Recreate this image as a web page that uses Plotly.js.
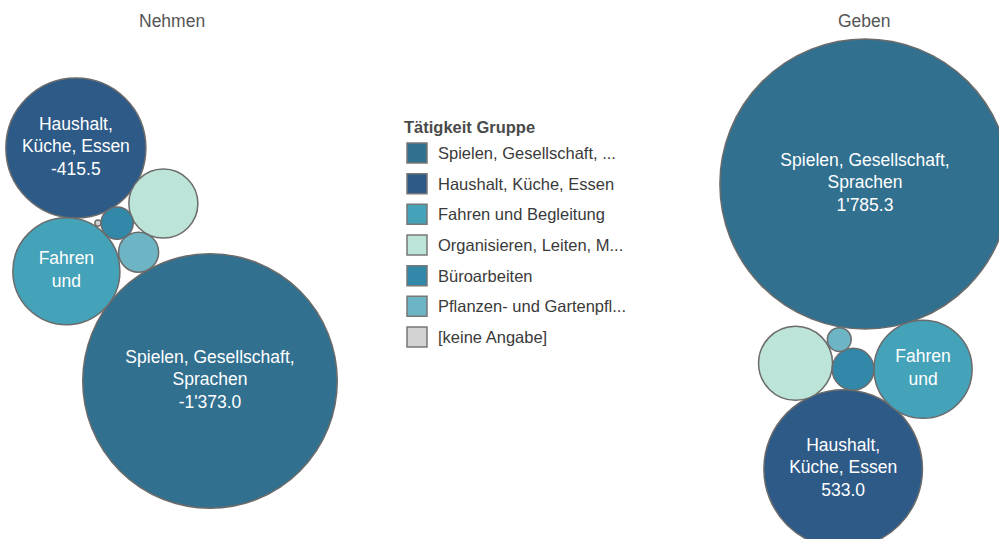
<!DOCTYPE html>
<html><head><meta charset="utf-8">
<script src="https://cdn.plot.ly/plotly-3.0.1.min.js"></script>
<style>html,body{margin:0;padding:0;background:#fff}#chart{width:999px;height:539px}</style>
</head><body><div id="chart"></div>
<script>
// ---- data ----
const categories = ["Spielen, Gesellschaft, ...", "Haushalt, Küche, Essen", "Fahren und Begleitung", "Organisieren, Leiten, M...", "Büroarbeiten", "Pflanzen- und Gartenpfl...", "[keine Angabe]"];
const bubbleLabels = ["Spielen, Gesellschaft,<br>Sprachen", "Haushalt,<br>Küche, Essen", "Fahren<br>und", "", "", "", ""];
const showValue = [true, true, false, false, false, false, false];
const panels = ["Nehmen", "Geben"];
const nehmenValues = [-1373.0, -415.5, -243, -101, -22, -34, -0.8];
const gebenValues = [1785.3, 533.0, 204, 116, 37, 12, null];
const legendTitle = "Tätigkeit Gruppe";

// ---- styles ----
const colors = ["#31708f", "#2d5a87", "#44a2b9", "#bce4d8", "#3188a8", "#6db5c4", "#d3d3d3"];
const FONT = "Liberation Sans, Arial, Helvetica, sans-serif";
const PX_PER_SQRT = 3.434; // bubble radius (px) per sqrt(|value|)

// ---- packing layout: anchor circle, others placed tangent to a parent at an angle (deg, screen coords) ----
const packing = {
  Nehmen: {anchor: [210, 381], place: [null, [2, 274.4], [0, 217.4], [5, 297], [5, 233.6], [0, 241], [4, 180]], title: [172, 21]},
  Geben: {anchor: [865, 184], place: [null, [4, 95.7], [0, 72.6], [4, 185.9], [2, 180], [4, 245], null], title: [864, 21]}
};

function fmt(v) {
  const s = Math.abs(v).toFixed(1).split(".");
  const int = s[0].replace(/\B(?=(\d{3})+(?!\d))/g, "'");
  return (v < 0 ? "-" : "") + int + "." + s[1];
}

const traces = [];
const annotations = [];
const shapes = [];

function buildPanel(name, values) {
  const pk = packing[name];
  const radius = values.map(v => v == null ? null : PX_PER_SQRT * Math.sqrt(Math.abs(v)));
  const centers = {};
  function resolve(i) {
    if (centers[i]) return centers[i];
    if (i === 0) { centers[i] = pk.anchor.slice(); return centers[i]; }
    const [p, a] = pk.place[i];
    const c = resolve(p);
    const d = radius[i] + radius[p];
    const t = a * Math.PI / 180;
    centers[i] = [c[0] + d * Math.cos(t), c[1] + d * Math.sin(t)];
    return centers[i];
  }
  const idx = values.map((v, i) => i).filter(i => values[i] != null && pk.place[i] !== undefined && (i === 0 || pk.place[i]));
  idx.sort((a, b) => Math.abs(values[b]) - Math.abs(values[a]));
  const xs = [], ys = [], sz = [], cl = [], tx = [];
  idx.forEach(i => {
    const c = resolve(i);
    xs.push(c[0]); ys.push(c[1]); sz.push(2 * radius[i]); cl.push(colors[i]);
    tx.push(bubbleLabels[i] ? bubbleLabels[i] + (showValue[i] ? "<br>" + fmt(values[i]) : "") : "");
  });
  traces.push({
    type: "scatter", mode: "markers", x: xs, y: ys, hoverinfo: "skip", showlegend: false,
    cliponaxis: false,
    marker: {size: sz, sizemode: "diameter", color: cl, opacity: 1, line: {color: "#6b6b6b", width: 1.5}}
  });
  traces.push({
    type: "scatter", mode: "text", x: xs, y: ys, text: tx, textposition: "middle center",
    hoverinfo: "skip", showlegend: false, cliponaxis: false,
    textfont: {family: FONT, size: 17.5, color: "#ffffff"}
  });
  annotations.push({x: pk.title[0], y: pk.title[1], xref: "x", yref: "y", text: name, showarrow: false,
    xanchor: "center", yanchor: "middle", font: {family: FONT, size: 17.5, color: "#555555"}});
}
buildPanel("Nehmen", nehmenValues);
buildPanel("Geben", gebenValues);

// ---- legend (drawn manually) ----
const legX = 402, legTitleY = 127, legY0 = 153, legStep = 30.67;
annotations.push({x: legX, y: legTitleY, xref: "x", yref: "y", text: "<b>" + legendTitle + "</b>", showarrow: false,
  xanchor: "left", yanchor: "middle", font: {family: FONT, size: 16.5, color: "#4a4a4a"}});
categories.forEach((c, i) => {
  const y = legY0 + i * legStep;
  shapes.push({type: "rect", xref: "x", yref: "y", x0: legX + 5, x1: legX + 25, y0: y - 10, y1: y + 10,
    fillcolor: colors[i], line: {color: "#777777", width: 1.5}});
  annotations.push({x: legX + 34, y: y, xref: "x", yref: "y", text: c, showarrow: false,
    xanchor: "left", yanchor: "middle", font: {family: FONT, size: 16.5, color: "#3a3a3a"}});
});

const layout = {
  width: 999, height: 539, margin: {l: 0, r: 0, t: 0, b: 0},
  paper_bgcolor: "#ffffff", plot_bgcolor: "#ffffff",
  xaxis: {range: [0, 999], visible: false, fixedrange: true},
  yaxis: {range: [539, 0], visible: false, fixedrange: true},
  showlegend: false, annotations: annotations, shapes: shapes
};
Plotly.newPlot("chart", traces, layout, {displayModeBar: false, staticPlot: true});
</script></body></html>
